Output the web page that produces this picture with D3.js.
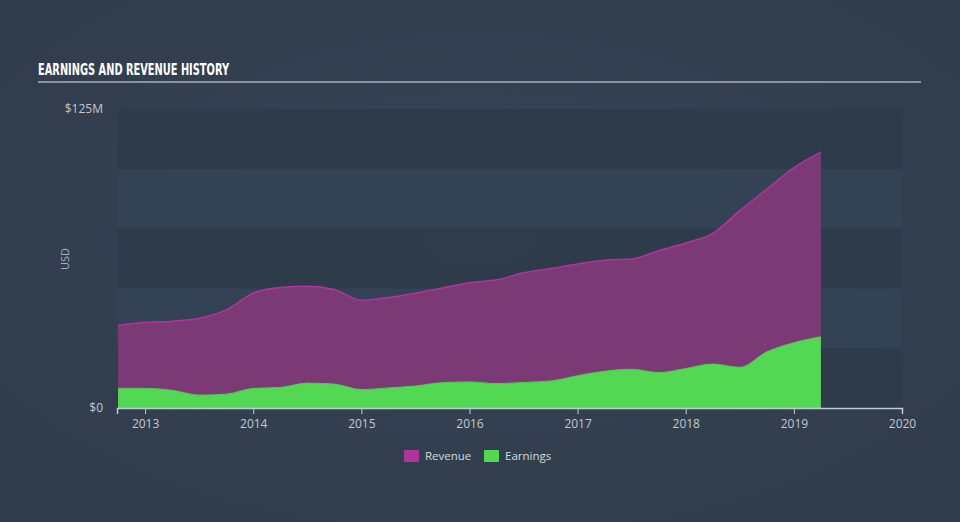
<!DOCTYPE html>
<html><head><meta charset="utf-8">
<script src="https://cdn.jsdelivr.net/npm/d3@7"></script>
<style>
html,body{margin:0;padding:0;background:#333f4f;}
svg{display:block;}
</style></head>
<body>
<svg id="c" width="960" height="522"></svg>
<script>
const dates = [2012.75,2013.0,2013.25,2013.5,2013.75,2014.0,2014.25,2014.5,2014.75,2015.0,2015.25,2015.5,2015.75,2016.0,2016.25,2016.5,2016.75,2017.0,2017.25,2017.5,2017.75,2018.0,2018.25,2018.5,2018.75,2019.0,2019.25];
const revenue = [34.5,35.8,36.3,37.5,41,48,50.4,50.9,49.5,45,46.2,48,50.2,52.4,53.6,56.5,58.3,60.2,61.8,62.3,65.8,69,73,82.5,91.5,100.5,107];
const earnings = [8.2,8.2,7.4,5.4,5.8,8.2,8.6,10.4,10,7.7,8.4,9.2,10.6,10.9,10.2,10.7,11.3,13.5,15.4,16.2,14.8,16.5,18.4,17,23.5,27.3,29.8];
const xTicks = [2013,2014,2015,2016,2017,2018,2019,2020];
const yLabels = [{v:0,t:"$0"},{v:125,t:"$125M"}];
const bandEdges = [0,25,50,75,100,125];
const seriesNames = ["Revenue","Earnings"];
const seriesColors = {Revenue:"#b0359b", Earnings:"#52d853"};

(function(){
const svg = d3.select("#c");
const W=960,H=522;
const pL=117,pR=902,pT=109,pB=408;

const defs = svg.append("defs");
const rg = defs.append("radialGradient").attr("id","bg").attr("cx","50%").attr("cy","45%").attr("r","65%");
rg.append("stop").attr("offset","0%").attr("stop-color","#364557");
rg.append("stop").attr("offset","100%").attr("stop-color","#313c4b");
svg.append("rect").attr("width",W).attr("height",H).attr("fill","url(#bg)");

const x = d3.scaleLinear().domain([2012.74,2020]).range([pL,pR]);
const y = d3.scaleLinear().domain([0,125]).range([pB,pT]);

for(let i=0;i<bandEdges.length-1;i++){
  svg.append("rect").attr("x",pL).attr("width",pR-pL)
    .attr("y",y(bandEdges[i+1])).attr("height",y(bandEdges[i])-y(bandEdges[i+1]))
    .attr("fill", i%2===0 ? "#2e3b4a" : "#334254").attr("opacity",0.9);
}

svg.append("text").attr("x",38).attr("y",75)
  .attr("font-family","'DejaVu Sans Condensed','DejaVu Sans',sans-serif")
  .attr("font-weight","bold").attr("font-size",16).attr("fill","#ffffff")
  .attr("textLength",191).attr("lengthAdjust","spacingAndGlyphs")
  .text("EARNINGS AND REVENUE HISTORY");
svg.append("line").attr("x1",38).attr("x2",921).attr("y1",82).attr("y2",82)
  .attr("stroke","#a9b0b9").attr("stroke-width",1.5);

const data = dates.map((d,i)=>({d, r:revenue[i], e:earnings[i]}));
const curve = d3.curveMonotoneX;
const areaR = d3.area().x(d=>x(d.d)).y0(y(0)).y1(d=>y(d.r)).curve(curve);
const lineR = d3.line().x(d=>x(d.d)).y(d=>y(d.r)).curve(curve);
const areaE = d3.area().x(d=>x(d.d)).y0(y(0)).y1(d=>y(d.e)).curve(curve);
const lineE = d3.line().x(d=>x(d.d)).y(d=>y(d.e)).curve(curve);

svg.append("path").datum(data).attr("d",areaR).attr("fill","#7b3a76");
svg.append("path").datum(data).attr("d",lineR).attr("fill","none").attr("stroke","#b0359b").attr("stroke-width",1.5);
svg.append("path").datum(data).attr("d",areaE).attr("fill","#52d853");
svg.append("path").datum(data).attr("d",lineE).attr("fill","none").attr("stroke","#4ccf4d").attr("stroke-width",1);

const xAxis = d3.axisBottom(x).tickValues(xTicks).tickFormat(d3.format("d")).tickSizeOuter(0).tickSize(6);
const gx = svg.append("g").attr("transform",`translate(0,${pB})`).call(xAxis);
gx.select(".domain").attr("stroke","#c3cad3").attr("stroke-width",1.5);
gx.selectAll(".tick line").attr("stroke","#c3cad3");
gx.selectAll(".tick text").attr("fill","#c3c8ce").attr("font-size",12)
  .attr("font-family","'Open Sans',sans-serif").attr("dy","0.9em");

svg.selectAll(".ylab").data(yLabels).enter().append("text")
  .attr("x",103).attr("y",d=>y(d.v)+4).attr("text-anchor","end")
  .attr("font-family","'Open Sans',sans-serif").attr("font-size",12).attr("fill","#c3c8ce")
  .text(d=>d.t);
svg.append("text").attr("transform","translate(69,259) rotate(-90)").attr("text-anchor","middle")
  .attr("font-family","'Open Sans',sans-serif").attr("font-size",11).attr("fill","#aab1ba").text("USD");

const legX = [404,484];
seriesNames.forEach((n,i)=>{
  svg.append("rect").attr("x",legX[i]).attr("y",450).attr("width",15).attr("height",12).attr("fill",seriesColors[n]);
  svg.append("text").attr("x",legX[i]+21).attr("y",460).attr("font-family","'Open Sans',sans-serif")
    .attr("font-size",11.5).attr("fill","#d5d9de").text(n);
});
})();
</script>
</body></html>
